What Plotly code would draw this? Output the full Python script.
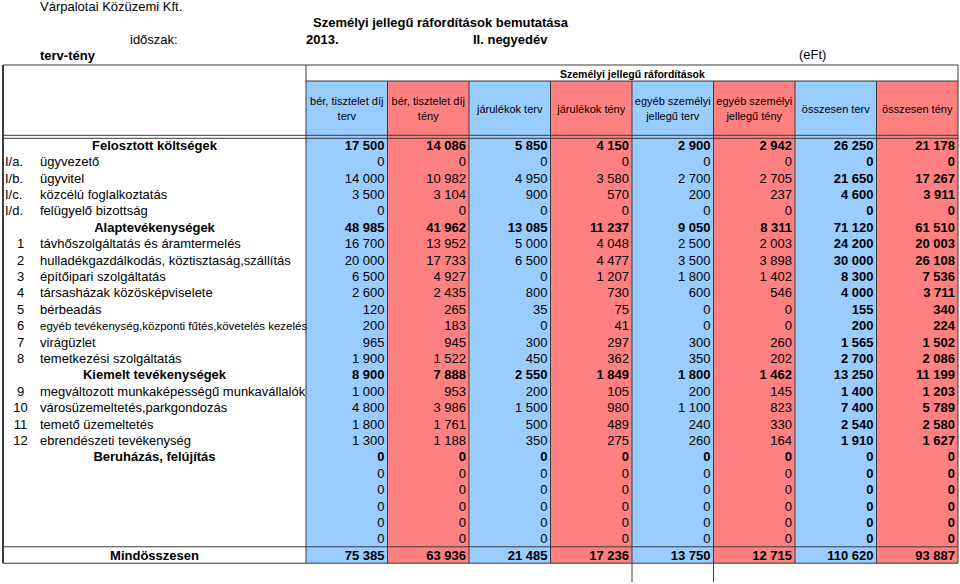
import plotly.graph_objects as go

# ------------------------- data -------------------------
company = "Várpalotai Közüzemi Kft."
report_title = "Személyi jellegű ráfordítások bemutatása"
period_label = "időszak:"
period_year = "2013."
period_quarter = "II. negyedév"
comparison = "terv-tény"
unit = "(eFt)"
group_header = "Személyi jellegű ráfordítások"

column_names = [
    "bér, tisztelet díj<br>terv", "bér, tisztelet díj<br>tény",
    "járulékok terv", "járulékok tény",
    "egyéb személyi<br>jellegű terv", "egyéb személyi<br>jellegű tény",
    "összesen terv", "összesen tény",
]
column_kind = ["terv", "tény", "terv", "tény", "terv", "tény", "terv", "tény"]

row_kinds = (["section"] + ["item"] * 4 + ["section"] + ["item"] * 8 +
             ["section"] + ["item"] * 4 + ["section"] + ["blank"] * 5 + ["total"])
row_codes = ["", "I/a.", "I/b.", "I/c.", "I/d.", "",
             "1", "2", "3", "4", "5", "6", "7", "8", "",
             "9", "10", "11", "12", "", "", "", "", "", "", ""]
row_labels = [
    "Felosztott költségek", "ügyvezető", "ügyvitel", "közcélú foglalkoztatás", "felügyelő bizottság",
    "Alaptevékenységek", "távhőszolgáltatás és áramtermelés", "hulladékgazdálkodás, köztisztaság,szállítás",
    "építőipari szolgáltatás", "társasházak közösképviselete", "bérbeadás",
    "egyéb tevékenység,központi fűtés,követelés kezelés", "virágüzlet", "temetkezési szolgáltatás",
    "Kiemelt tevékenységek", "megváltozott munkaképességű munkavállalók", "városüzemeltetés,parkgondozás",
    "temető üzemeltetés", "ebrendészeti tevékenység", "Beruházás, felújítás",
    "", "", "", "", "", "Mindösszesen",
]

ber_terv = [17500, 0, 14000, 3500, 0, 48985, 16700, 20000, 6500, 2600, 120, 200, 965, 1900,
            8900, 1000, 4800, 1800, 1300, 0, 0, 0, 0, 0, 0, 75385]
ber_teny = [14086, 0, 10982, 3104, 0, 41962, 13952, 17733, 4927, 2435, 265, 183, 945, 1522,
            7888, 953, 3986, 1761, 1188, 0, 0, 0, 0, 0, 0, 63936]
jarulek_terv = [5850, 0, 4950, 900, 0, 13085, 5000, 6500, 0, 800, 35, 0, 300, 450,
                2550, 200, 1500, 500, 350, 0, 0, 0, 0, 0, 0, 21485]
jarulek_teny = [4150, 0, 3580, 570, 0, 11237, 4048, 4477, 1207, 730, 75, 41, 297, 362,
                1849, 105, 980, 489, 275, 0, 0, 0, 0, 0, 0, 17236]
egyeb_terv = [2900, 0, 2700, 200, 0, 9050, 2500, 3500, 1800, 600, 0, 0, 300, 350,
              1800, 200, 1100, 240, 260, 0, 0, 0, 0, 0, 0, 13750]
egyeb_teny = [2942, 0, 2705, 237, 0, 8311, 2003, 3898, 1402, 546, 0, 0, 260, 202,
              1462, 145, 823, 330, 164, 0, 0, 0, 0, 0, 0, 12715]
osszes_terv = [26250, 0, 21650, 4600, 0, 71120, 24200, 30000, 8300, 4000, 155, 200, 1565, 2700,
               13250, 1400, 7400, 2540, 1910, 0, 0, 0, 0, 0, 0, 110620]
osszes_teny = [21178, 0, 17267, 3911, 0, 61510, 20003, 26108, 7536, 3711, 340, 224, 1502, 2086,
               11199, 1203, 5789, 2580, 1627, 0, 0, 0, 0, 0, 0, 93887]

columns = [ber_terv, ber_teny, jarulek_terv, jarulek_teny, egyeb_terv, egyeb_teny, osszes_terv, osszes_teny]

# ------------------------- layout / style -------------------------
W, H = 960, 584
FONT = "Liberation Sans, Arial, sans-serif"
FILL = {"terv": "#99CCFF", "tény": "#FF8080"}
LINE = "#3a3a3a"

TABLE_LEFT = 3
LABEL_RIGHT = 306
COL_W = 81.5
HEAD_TOP = 65
SUBHEAD_TOP = 81
BODY_TOP = 136.8
ROW_H = 16.4
TEXT_DY = 1.5
n_rows = len(row_labels)
n_cols = len(columns)
col_edges = [LABEL_RIGHT + i * COL_W for i in range(n_cols + 1)]
TABLE_RIGHT = col_edges[-1]
BODY_BOTTOM = BODY_TOP + n_rows * ROW_H
row_center = [BODY_TOP + (i + 0.5) * ROW_H + TEXT_DY for i in range(n_rows)]
label_center_x = (TABLE_LEFT + LABEL_RIGHT) / 2


def fmt(v):
    return f"{v:,}".replace(",", " ")


fig = go.Figure()

# number columns
for j, col in enumerate(columns):
    texts = []
    for i, v in enumerate(col):
        bold = row_kinds[i] in ("section", "total") or j >= 6
        s = fmt(v)
        texts.append(f"<b>{s}</b>" if bold else s)
    fig.add_trace(go.Scatter(
        x=[col_edges[j + 1] - 3] * n_rows, y=row_center, text=texts,
        mode="text", textposition="middle left",
        textfont=dict(family=FONT, size=13, color="black"),
        hoverinfo="skip", showlegend=False, cliponaxis=False))

# header column names
fig.add_trace(go.Scatter(
    x=[(col_edges[j] + col_edges[j + 1]) / 2 for j in range(n_cols)],
    y=[(SUBHEAD_TOP + BODY_TOP) / 2 + 1] * n_cols, text=column_names,
    mode="text", textposition="middle center",
    textfont=dict(family=FONT, size=11, color="black"),
    hoverinfo="skip", showlegend=False, cliponaxis=False))

# row labels
sec_x, sec_y, sec_t = [], [], []
item_x, item_y, item_t = [], [], []
small_x, small_y, small_t = [], [], []
for i, (kind, lab) in enumerate(zip(row_kinds, row_labels)):
    if kind in ("section", "total"):
        sec_x.append(label_center_x); sec_y.append(row_center[i]); sec_t.append(f"<b>{lab}</b>")
    elif lab:
        if len(lab) > 45:
            small_x.append(40); small_y.append(row_center[i]); small_t.append(lab)
        else:
            item_x.append(40); item_y.append(row_center[i]); item_t.append(lab)

fig.add_trace(go.Scatter(x=sec_x, y=sec_y, text=sec_t, mode="text", textposition="middle center",
                         textfont=dict(family=FONT, size=13, color="black"),
                         hoverinfo="skip", showlegend=False, cliponaxis=False))
fig.add_trace(go.Scatter(x=item_x, y=item_y, text=item_t, mode="text", textposition="middle right",
                         textfont=dict(family=FONT, size=13, color="black"),
                         hoverinfo="skip", showlegend=False, cliponaxis=False))
fig.add_trace(go.Scatter(x=small_x, y=small_y, text=small_t, mode="text", textposition="middle right",
                         textfont=dict(family=FONT, size=11.5, color="black"),
                         hoverinfo="skip", showlegend=False, cliponaxis=False))

# codes
rx, ry, rt, cx, cy, ct = [], [], [], [], [], []
for i, c in enumerate(row_codes):
    if not c:
        continue
    if c.startswith("I/"):
        rx.append(5); ry.append(row_center[i]); rt.append(c)
    else:
        cx.append(20.5); cy.append(row_center[i]); ct.append(c)
fig.add_trace(go.Scatter(x=rx, y=ry, text=rt, mode="text", textposition="middle right",
                         textfont=dict(family=FONT, size=13, color="black"),
                         hoverinfo="skip", showlegend=False, cliponaxis=False))
fig.add_trace(go.Scatter(x=cx, y=cy, text=ct, mode="text", textposition="middle center",
                         textfont=dict(family=FONT, size=13, color="black"),
                         hoverinfo="skip", showlegend=False, cliponaxis=False))

# ------------------------- shapes -------------------------
shapes = []
for j in range(n_cols):
    shapes.append(dict(type="rect", x0=col_edges[j], x1=col_edges[j + 1], y0=SUBHEAD_TOP, y1=BODY_BOTTOM,
                       fillcolor=FILL[column_kind[j]], line=dict(width=0), layer="below"))


def hline(y, x0=TABLE_LEFT, x1=TABLE_RIGHT, w=1):
    shapes.append(dict(type="line", x0=x0, x1=x1, y0=y, y1=y, line=dict(color=LINE, width=w), layer="below"))


def vline(x, y0, y1, w=1):
    shapes.append(dict(type="line", x0=x, x1=x, y0=y0, y1=y1, line=dict(color=LINE, width=w), layer="below"))


hline(HEAD_TOP)
hline(SUBHEAD_TOP, x0=LABEL_RIGHT)
hline(BODY_TOP - 1.5)
hline(BODY_TOP + 1.5)
hline(BODY_TOP + (n_rows - 1) * ROW_H)
hline(BODY_BOTTOM)
vline(TABLE_LEFT, HEAD_TOP, BODY_BOTTOM, w=2)
vline(LABEL_RIGHT, HEAD_TOP, BODY_BOTTOM)
for x in col_edges[1:-1]:
    vline(x, SUBHEAD_TOP, BODY_BOTTOM)
vline(TABLE_RIGHT, HEAD_TOP, BODY_BOTTOM)
vline(col_edges[4], BODY_BOTTOM, H - 2)
vline(col_edges[5], BODY_BOTTOM, H - 2)

# ------------------------- titles -------------------------
def ann(text, x, y, size=13, anchor="left"):
    return dict(text=text, x=x, y=y, xref="x", yref="y", xanchor=anchor, yanchor="middle",
                showarrow=False, font=dict(family=FONT, size=size, color="black"))


annotations = [
    ann(company, 38, 6.5),
    ann(f"<b>{report_title}</b>", 311, 22.5),
    ann(period_label, 128, 39),
    ann(f"<b>{period_year}</b>", 304, 39),
    ann(f"<b>{period_quarter}</b>", 471, 39),
    ann(f"<b>{comparison}</b>", 38, 55),
    ann(unit, 797, 54.5),
    ann(f"<b>{group_header}</b>", (LABEL_RIGHT + TABLE_RIGHT) / 2, (HEAD_TOP + SUBHEAD_TOP) / 2 + 0.5,
        size=10.5, anchor="center"),
]

fig.update_layout(
    width=W, height=H, autosize=False,
    margin=dict(l=0, r=0, t=0, b=0),
    paper_bgcolor="white", plot_bgcolor="white",
    xaxis=dict(range=[0, W], visible=False, fixedrange=True),
    yaxis=dict(range=[H, 0], visible=False, fixedrange=True),
    shapes=shapes, annotations=annotations,
    font=dict(family=FONT),
)

fig.write_html("out.html", config={"displayModeBar": False},
               post_script="document.body.style.margin='0';document.body.style.padding='0';")
